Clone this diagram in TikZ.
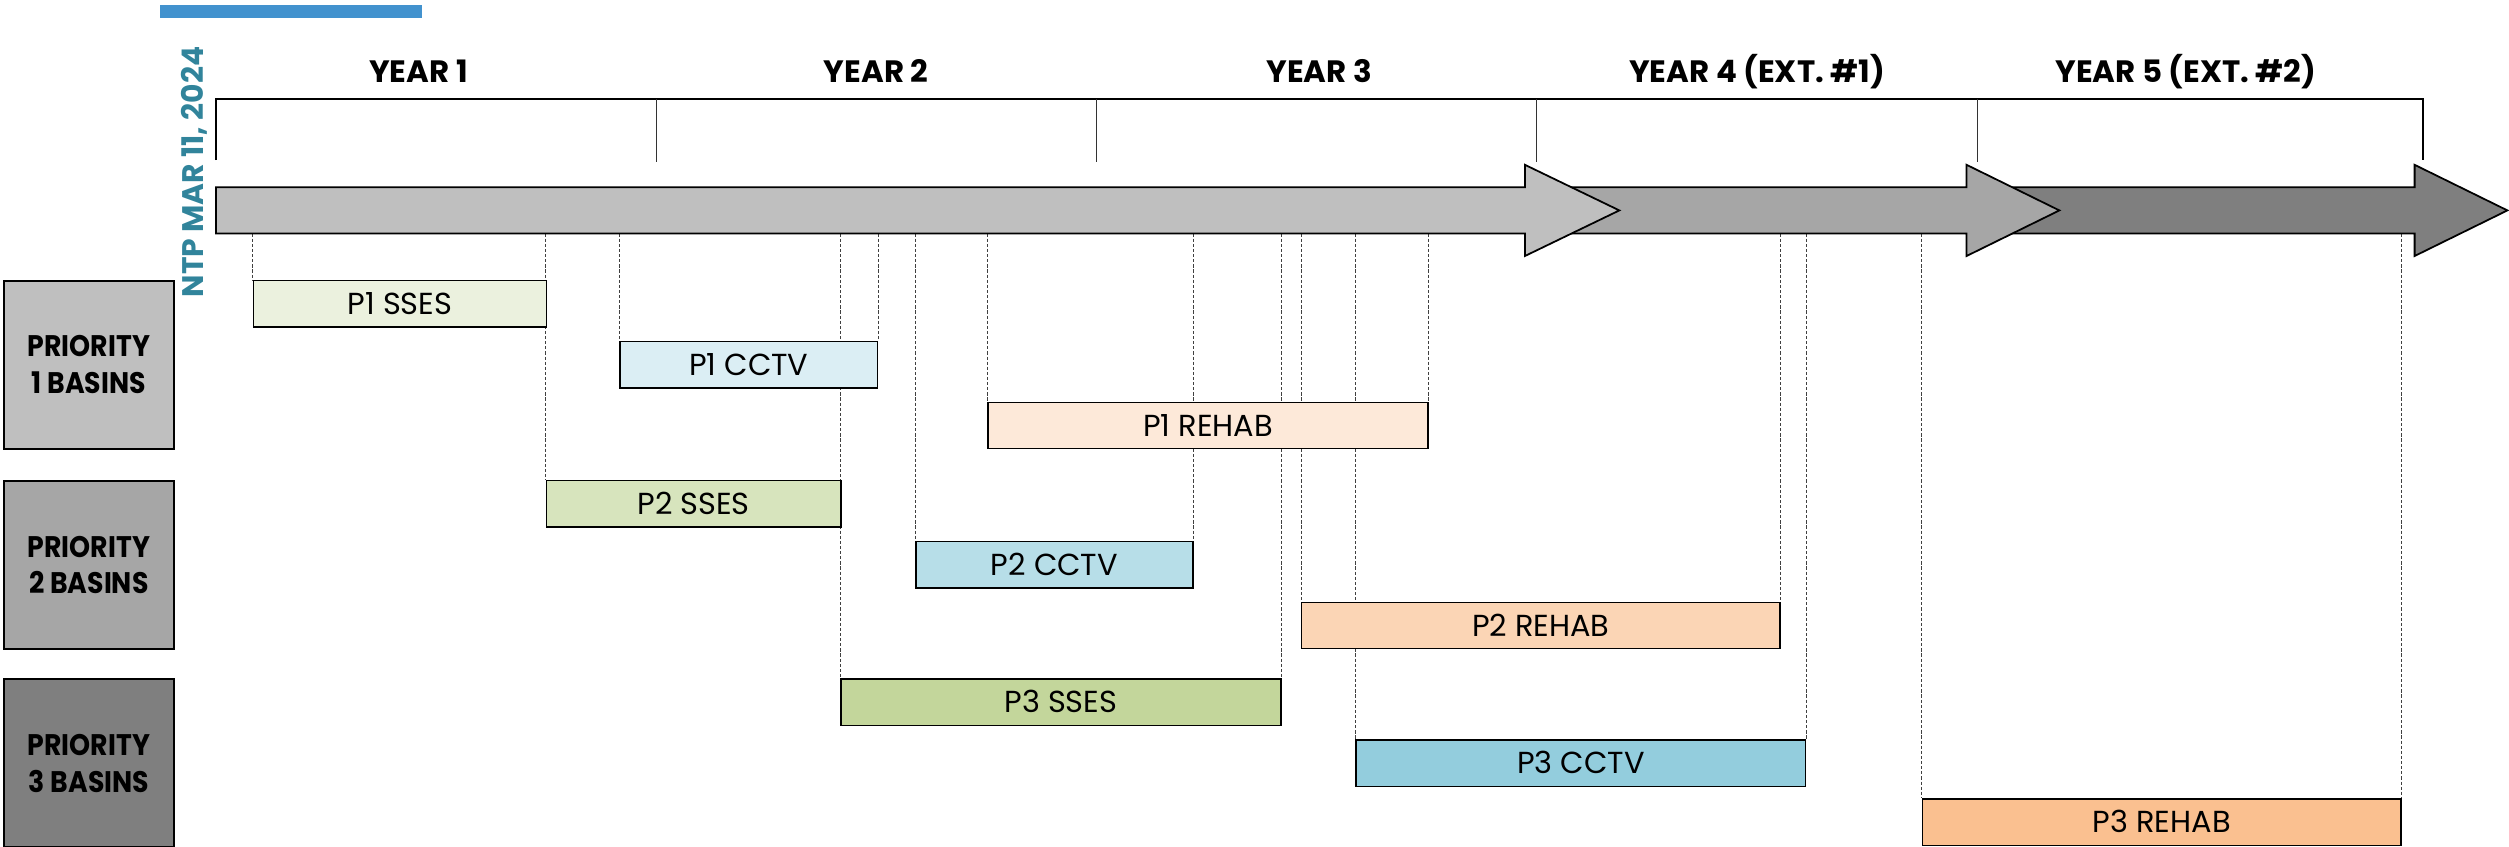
\documentclass[tikz,border=0pt]{standalone}
\usepackage{fontspec}
\newfontfamily\gothic{Poppins}
\newfontfamily\gothicn[FakeStretch=0.9]{Poppins}
\usetikzlibrary{backgrounds}
\definecolor{accentblue}{RGB}{66,146,206}
\definecolor{ntpteal}{RGB}{49,132,155}
\definecolor{grayA}{HTML}{BFBFBF}
\definecolor{grayB}{HTML}{A6A6A6}
\definecolor{grayC}{HTML}{7F7F7F}
\definecolor{sesA}{HTML}{EBF1DE}
\definecolor{sesB}{HTML}{D7E4BD}
\definecolor{sesC}{HTML}{C3D69B}
\definecolor{tvA}{HTML}{DBEEF4}
\definecolor{tvB}{HTML}{B7DEE8}
\definecolor{tvC}{HTML}{93CDDD}
\definecolor{rhA}{HTML}{FDE9D9}
\definecolor{rhB}{HTML}{FBD5B5}
\definecolor{rhC}{HTML}{FAC090}
\newcommand\taskfont{\gothic\fontsize{19}{21}\selectfont}
\newcommand\priofont{\gothicn\bfseries\fontsize{18.6}{23}\selectfont}
\newcommand\yearfont{\gothic\bfseries\fontsize{19.3}{22}\selectfont}
\newcommand\ntpfont{\gothic\bfseries\fontsize{18.6}{22}\selectfont}
\begin{document}
\begin{tikzpicture}[x=1pt,y=-1pt,
  task/.style={draw=black, line width=0.9pt, anchor=north west, minimum height=29pt,
    inner sep=0pt, font=\taskfont, text height=13.2pt, text depth=0pt},
  prio/.style={draw=black, line width=1.1pt, anchor=north west, minimum width=106pt,
    minimum height=105pt, inner sep=0pt, font=\priofont, align=center},
  yearlbl/.style={font=\yearfont, anchor=base, inner sep=0pt},
  guide/.style={draw=black!75, line width=0.5pt, dash pattern=on 2pt off 1.2pt},
  arrowbody/.style={draw=black, line width=1.1pt, line join=miter}]
\useasboundingbox (0,0) rectangle (1568,529);

% accent bar
\fill[accentblue] (100,3.3) rectangle (264,11.5);

% NTP label
\node[rotate=90, anchor=base west, font=\ntpfont, text=ntpteal, inner sep=0pt] (ntp)
  at (127,186) {NTP MAR 11, 2024};

% year bracket
\draw[line width=1.2pt] (135,100) -- (135,62) -- (1514,62) -- (1514,100);
\foreach \tx in {410,685,960,1236}
  \draw[line width=0.5pt, black!80] (\tx,62) -- (\tx,101);

\node[yearlbl] (y1) at (261.5,51.5) {YEAR 1};
\node[yearlbl] (y2) at (547.5,51.5) {YEAR 2};
\node[yearlbl] (y3) at (824.5,51.5) {YEAR 3};
\node[yearlbl] (y4) at (1098,51.5) {YEAR 4 (EXT. \#1)};
\node[yearlbl] (y5) at (1366,51.5) {YEAR 5 (EXT. \#2)};

% timeline arrows (back to front)
\filldraw[arrowbody, fill=grayC] (1236,117) -- (1509,117) -- (1509,103) -- (1567,131.5)
  -- (1509,160) -- (1509,146) -- (1236,146) -- cycle;
\filldraw[arrowbody, fill=grayB] (960,117) -- (1229,117) -- (1229,103) -- (1287,131.5)
  -- (1229,160) -- (1229,146) -- (960,146) -- cycle;
\filldraw[arrowbody, fill=grayA] (135,117) -- (953,117) -- (953,103) -- (1012,131.5)
  -- (953,160) -- (953,146) -- (135,146) -- cycle;
\coordinate (ab) at (0,146);

% priority boxes
\node[prio, fill=grayA] (pr1) at (2,175) {PRIORITY\\1 BASINS};
\node[prio, fill=grayB] (pr2) at (2,300) {PRIORITY\\2 BASINS};
\node[prio, fill=grayC] (pr3) at (2,424) {PRIORITY\\3 BASINS};

% task bars
\node[task, fill=sesA, minimum width=183pt] (p1sses)  at (158,175) {P1 SSES};
\node[task, fill=tvA,  minimum width=161pt] (p1cctv)  at (387,213) {P1 CCTV};
\node[task, fill=rhA,  minimum width=275pt] (p1rehab) at (617,251) {P1 REHAB};
\node[task, fill=sesB, minimum width=184pt] (p2sses)  at (341,300) {P2 SSES};
\node[task, fill=tvB,  minimum width=173pt] (p2cctv)  at (572,338) {P2 CCTV};
\node[task, fill=rhB,  minimum width=299pt] (p2rehab) at (813,376) {P2 REHAB};
\node[task, fill=sesC, minimum width=275pt] (p3sses)  at (525,424) {P3 SSES};
\node[task, fill=tvC,  minimum width=281pt] (p3cctv)  at (847,462) {P3 CCTV};
\node[task, fill=rhC,  minimum width=299pt] (p3rehab) at (1201,499) {P3 REHAB};

% guide lines behind everything
\begin{scope}[on background layer]
\foreach \n/\a in {p1sses/north west, p2sses/north west, p1cctv/north west,
    p3sses/north west, p1cctv/north east, p2cctv/north west, p1rehab/north west,
    p2cctv/north east, p3sses/north east, p2rehab/north west, p3cctv/north west,
    p1rehab/north east, p2rehab/north east, p3cctv/north east,
    p3rehab/north west, p3rehab/north east}
  \draw[guide] (\n.\a |- ab) -- (\n.\a);
\end{scope}
\end{tikzpicture}
\end{document}
